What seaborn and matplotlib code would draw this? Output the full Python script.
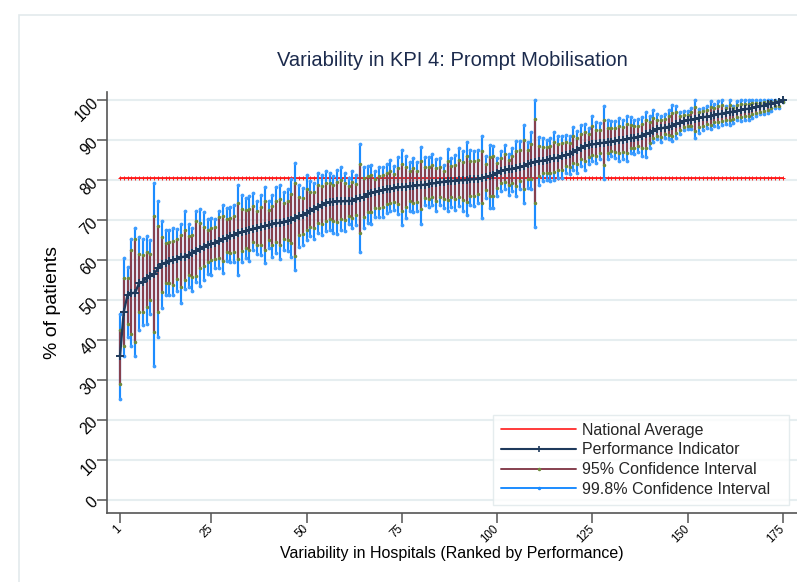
import numpy as np
import pandas as pd
import matplotlib
matplotlib.use("Agg")
import matplotlib.pyplot as plt
import seaborn as sns
from matplotlib.lines import Line2D
from matplotlib.patches import Rectangle

# ---------------- data ----------------
mean = [35.9, 47.1, 51.3, 51.7, 51.9, 54.2, 54.6, 55.5, 56.0, 56.5,
        58.0, 59.0, 59.4, 59.7, 60.0, 60.3, 60.7, 60.9, 61.2, 61.8,
        62.3, 62.8, 63.4, 63.7, 64.1, 64.4, 64.7, 65.2, 65.6, 66.0,
        66.3, 66.7, 67.0, 67.3, 67.6, 67.9, 68.1, 68.3, 68.5, 68.8,
        69.0, 69.2, 69.4, 69.6, 69.8, 70.1, 70.5, 71.0, 71.3, 71.8,
        72.3, 72.8, 73.3, 73.9, 74.3, 74.5, 74.6, 74.7, 74.7, 74.8,
        74.8, 74.9, 75.2, 75.5, 75.8, 76.5, 76.8, 77.0, 77.3, 77.5,
        77.7, 77.8, 78.0, 78.2, 78.3, 78.4, 78.5, 78.6, 78.7, 78.8,
        78.9, 79.1, 79.2, 79.3, 79.5, 79.6, 79.7, 79.8, 79.9, 80.0,
        80.0, 80.1, 80.2, 80.3, 80.4, 80.6, 80.8, 81.0, 81.3, 81.7,
        82.4, 82.6, 82.7, 82.9, 83.0, 83.3, 83.6, 84.0, 84.4, 84.7,
        84.8, 84.9, 85.1, 85.3, 85.5, 85.7, 86.0, 86.3, 86.6, 87.0,
        87.5, 88.1, 88.6, 88.8, 89.0, 89.1, 89.3, 89.4, 89.6, 89.7,
        89.8, 90.0, 90.1, 90.3, 90.5, 90.7, 90.9, 91.2, 91.5, 91.9,
        92.4, 92.8, 93.0, 93.2, 93.4, 93.7, 94.1, 94.4, 94.8, 95.0,
        95.2, 95.4, 95.6, 95.8, 95.9, 96.1, 96.3, 96.5, 96.7, 96.9,
        97.0, 97.2, 97.4, 97.6, 97.8, 97.9, 98.1, 98.3, 98.5, 98.7,
        99.0, 99.2, 99.4, 99.7, 100.0]

ci998_lo = [25.2, 36.1, 40.8, 38.4, 36.1, 42.4, 43.7, 44.1, 46.5, 33.6,
            40.8, 48.1, 51.3, 51.3, 51.4, 52.2, 49.2, 52.9, 53.4, 52.2,
            54.6, 53.6, 55.0, 56.5, 56.3, 58.0, 58.0, 56.7, 59.7, 59.5,
            59.5, 56.3, 59.5, 60.5, 59.7, 62.6, 61.5, 61.3, 59.2, 63.0,
            60.7, 61.7, 60.3, 62.6, 62.2, 60.9, 57.5, 63.4, 63.8, 65.1,
            66.0, 65.4, 66.8, 66.2, 67.2, 67.6, 66.8, 66.5, 67.6, 67.2,
            69.0, 68.0, 68.8, 62.0, 68.0, 69.3, 69.1, 70.7, 70.7, 70.7,
            71.8, 72.4, 72.6, 71.6, 68.8, 70.5, 72.4, 72.0, 72.2, 69.1,
            73.7, 73.2, 73.7, 72.2, 73.7, 73.0, 72.3, 73.4, 72.5, 73.5,
            72.3, 71.2, 73.7, 73.5, 74.4, 70.6, 75.6, 73.1, 73.1, 76.0,
            77.3, 77.7, 76.4, 77.3, 76.0, 77.7, 74.4, 78.1, 77.7, 68.3,
            78.9, 79.8, 80.0, 79.8, 80.0, 80.6, 80.6, 81.9, 81.5, 82.6,
            81.9, 83.6, 82.6, 84.0, 84.9, 84.4, 85.3, 80.4, 85.3, 86.1,
            85.7, 84.9, 85.3, 84.9, 86.8, 86.5, 87.1, 86.1, 85.9, 88.0,
            89.5, 90.3, 89.5, 90.7, 90.3, 89.8, 90.7, 91.5, 92.5, 92.8,
            92.8, 90.7, 91.9, 92.5, 93.1, 92.8, 93.6, 93.3, 93.9, 94.1,
            93.8, 94.4, 95.0, 94.8, 95.0, 95.2, 95.6, 96.0, 96.5, 96.5,
            96.9, 97.3, 98.0, 98.0, 99.5]

ci998_hi = [46.5, 60.5, 58.4, 65.3, 68.1, 65.7, 65.3, 66.0, 65.1, 79.4,
            74.8, 69.9, 67.5, 67.5, 68.1, 67.9, 69.1, 72.3, 69.0, 68.1,
            72.3, 72.9, 72.1, 70.2, 70.6, 70.2, 72.3, 73.9, 73.1, 73.3,
            73.7, 78.9, 76.2, 75.6, 76.0, 76.9, 74.9, 76.3, 78.3, 74.8,
            76.2, 78.3, 78.9, 77.0, 77.7, 80.2, 84.2, 78.7, 78.1, 81.3,
            79.8, 79.4, 81.8, 81.3, 82.2, 81.9, 81.1, 82.5, 83.2, 81.9,
            80.6, 82.2, 81.3, 89.1, 83.4, 83.6, 83.9, 82.4, 83.2, 83.4,
            84.1, 85.1, 83.6, 85.9, 87.5, 86.2, 84.7, 85.6, 84.5, 88.4,
            85.8, 85.9, 86.6, 85.3, 85.6, 83.9, 87.8, 85.7, 86.3, 88.0,
            87.4, 89.7, 87.6, 87.4, 87.6, 91.2, 86.1, 88.8, 88.7, 85.7,
            87.4, 88.8, 86.5, 88.0, 89.9, 89.9, 93.8, 89.5, 92.0, 100.0,
            90.8, 90.5, 90.2, 90.5, 92.2, 91.2, 91.2, 91.3, 91.0, 93.4,
            92.4, 93.8, 94.1, 93.0, 96.1, 94.6, 94.4, 98.6, 95.1, 94.9,
            94.9, 95.6, 95.1, 96.1, 95.9, 95.1, 95.4, 95.9, 97.2, 96.1,
            97.6, 96.5, 96.1, 96.7, 97.5, 98.8, 98.7, 97.0, 97.4, 97.3,
            98.1, 100.0, 97.9, 98.1, 98.7, 99.8, 99.0, 99.8, 100.0, 98.7,
            100.0, 98.7, 99.8, 100.0, 100.0, 100.0, 100.0, 100.0, 100.0, 100.0,
            100.0, 100.0, 100.0, 100.0, 100.0]

ci95_lo = [29.0, 38.6, 44.1, 41.4, 39.5, 46.9, 46.9, 48.3, 50.0, 42.0,
           47.1, 52.1, 54.2, 54.4, 53.9, 55.3, 53.4, 55.0, 56.3, 55.9,
           56.1, 58.0, 58.6, 59.5, 60.1, 60.3, 60.5, 59.7, 62.0, 61.9,
           62.0, 60.2, 62.3, 63.0, 62.6, 64.6, 63.9, 63.9, 62.6, 65.1,
           63.8, 64.5, 63.7, 65.2, 65.0, 64.3, 61.0, 66.2, 66.6, 67.6,
           68.3, 68.1, 69.2, 69.0, 69.8, 70.2, 69.7, 69.5, 70.2, 70.0,
           71.1, 70.6, 71.2, 66.8, 70.9, 72.0, 72.0, 73.0, 73.1, 73.2,
           74.0, 74.4, 74.6, 74.0, 72.3, 73.4, 74.7, 74.4, 74.6, 72.7,
           75.6, 75.4, 75.7, 74.8, 75.8, 75.4, 75.0, 75.8, 75.2, 75.9,
           75.1, 74.5, 76.1, 76.0, 76.6, 74.3, 77.5, 76.0, 76.1, 78.1,
           79.2, 79.5, 78.7, 79.4, 78.6, 79.8, 77.8, 80.3, 80.2, 74.4,
           81.1, 81.7, 81.9, 81.8, 82.0, 82.5, 82.6, 83.5, 83.4, 84.2,
           84.0, 85.3, 84.8, 85.8, 86.4, 86.1, 86.8, 83.7, 86.9, 87.4,
           87.2, 86.8, 87.1, 86.9, 88.2, 88.1, 88.5, 88.0, 88.0, 89.4,
           90.6, 91.2, 90.8, 91.6, 91.4, 91.2, 91.9, 92.6, 93.3, 93.6,
           93.7, 92.4, 93.3, 93.7, 94.1, 93.9, 94.6, 94.5, 94.9, 95.1,
           95.0, 95.4, 95.9, 95.8, 96.0, 96.2, 96.5, 96.8, 97.2, 97.3,
           97.7, 98.0, 98.5, 98.6, 99.7]

ci95_hi = [42.6, 55.5, 55.6, 62.6, 65.3, 61.5, 61.2, 62.0, 61.5, 71.0,
           68.5, 65.7, 64.3, 64.5, 64.9, 65.4, 66.4, 67.6, 66.0, 66.4,
           69.7, 69.2, 68.2, 67.6, 68.1, 68.2, 70.8, 71.0, 70.3, 70.6,
           71.0, 74.4, 72.8, 72.5, 72.9, 73.6, 72.4, 73.3, 74.7, 72.6,
           73.5, 74.9, 75.4, 74.3, 74.8, 76.5, 79.3, 75.9, 75.6, 77.8,
           77.0, 77.0, 78.7, 78.6, 79.3, 79.2, 78.7, 79.6, 80.1, 79.3,
           78.5, 79.5, 79.0, 84.0, 80.6, 81.0, 81.3, 80.4, 81.0, 81.2,
           81.7, 82.4, 81.5, 83.0, 84.1, 83.3, 82.4, 83.0, 82.4, 84.8,
           83.2, 83.4, 83.9, 83.1, 83.3, 82.3, 84.8, 83.5, 83.9, 85.0,
           84.7, 86.1, 84.9, 84.8, 85.0, 87.3, 84.1, 85.9, 86.0, 84.2,
           85.6, 86.5, 85.1, 86.1, 87.3, 87.5, 90.0, 87.5, 89.2, 95.4,
           88.6, 88.4, 88.3, 88.6, 89.7, 89.2, 89.3, 89.5, 89.4, 91.0,
           90.6, 91.7, 92.1, 91.5, 93.5, 92.6, 92.5, 95.2, 93.1, 93.0,
           93.0, 93.5, 93.3, 94.0, 93.9, 93.5, 93.7, 94.2, 95.1, 94.5,
           95.7, 95.1, 95.0, 95.4, 96.0, 96.9, 97.0, 96.0, 96.4, 96.4,
           97.0, 98.3, 97.0, 97.3, 97.7, 98.4, 98.0, 98.6, 98.8, 98.0,
           98.9, 98.2, 98.9, 99.1, 99.2, 99.2, 99.3, 99.4, 99.4, 99.5,
           99.6, 99.7, 99.8, 99.9, 100.0]

national_average = 80.5
x_tick_values = [1, 25, 50, 75, 100, 125, 150, 175]
y_tick_values = [0, 10, 20, 30, 40, 50, 60, 70, 80, 90, 100]

title = "Variability in KPI 4: Prompt Mobilisation"
x_label = "Variability in Hospitals (Ranked by Performance)"
y_label = "% of patients"
legend_labels = ["National Average", "Performance Indicator",
                 "95% Confidence Interval", "99.8% Confidence Interval"]

# ---------------- styling ----------------
sns.set_theme(style="white")
plt.rcParams['font.family'] = ['Liberation Sans', 'DejaVu Sans']

C_RED = "#ff1a1a"
C_NAVY = "#1f3a5c"
C_MAROON = "#86404f"
C_OLIVE = "#6f8a3c"
C_BLUE = "#1c8cff"
C_GRID = "#e6eef0"

df = pd.DataFrame({
    "rank": np.arange(1, len(mean) + 1),
    "mean": mean,
    "lo998": ci998_lo, "hi998": ci998_hi,
    "lo95": ci95_lo, "hi95": ci95_hi,
})
df["national"] = national_average

W, H = 797, 582
fig = plt.figure(figsize=(W / 100, H / 100), dpi=100)
fig.patch.set_facecolor("white")
fig.add_artist(Rectangle((19 / W, -0.1), 1.2, 1 - 15 / H + 0.1,
                         transform=fig.transFigure, fill=False,
                         edgecolor="#e3eaec", lw=1.2))

ax = fig.add_axes([107 / W, 1 - 513 / H, 690 / W, 421 / H])
ax.set_facecolor("white")
ax.set_xlim(-2.4, 178.7)
ax.set_ylim(-3.3, 102.1)

ax.set_yticks(y_tick_values)
ax.yaxis.grid(True, color=C_GRID, lw=1.5, zorder=0)
ax.xaxis.grid(False)
ax.set_axisbelow(True)

# national average
sns.lineplot(data=df, x="rank", y="national", ax=ax, color=C_RED, lw=1.3,
             marker="+", markersize=3.2, markeredgewidth=0.7,
             markeredgecolor=C_RED, zorder=1.5, legend=False)

# 99.8% CI
ax.vlines(df["rank"], df["lo998"], df["hi998"], color=C_BLUE, lw=1.55, zorder=2)
ax.plot(df["rank"], df["lo998"], ls="none", marker="o", ms=1.7, color="#3c9cff", zorder=2.1)
ax.plot(df["rank"], df["hi998"], ls="none", marker="o", ms=1.7, color="#3c9cff", zorder=2.1)

# 95% CI
ax.vlines(df["rank"], df["lo95"], df["hi95"], color=C_MAROON, lw=1.55, zorder=3)
ax.plot(df["rank"], df["lo95"], ls="none", marker="o", ms=1.5, color=C_OLIVE, zorder=3.1)
ax.plot(df["rank"], df["hi95"], ls="none", marker="o", ms=1.5, color=C_OLIVE, zorder=3.1)

# performance indicator
sns.lineplot(data=df, x="rank", y="mean", ax=ax, color=C_NAVY, lw=1.7,
             marker="+", markersize=6, markeredgewidth=1.4,
             markeredgecolor=C_NAVY, zorder=4, legend=False)

# axes styling
for s in ["top", "right"]:
    ax.spines[s].set_visible(False)
for s in ["left", "bottom"]:
    ax.spines[s].set_color("#555555")
    ax.spines[s].set_linewidth(1.2)

ax.set_xticks(x_tick_values)
ax.set_xticklabels([str(v) for v in x_tick_values], fontsize=8.3)
ax.set_yticklabels([str(v) for v in y_tick_values], fontsize=11.3)
ax.tick_params(axis="both", which="both", direction="out", length=7,
               width=1.1, color="#555555", pad=1, labelcolor="black")
ax.tick_params(axis="x", bottom=True, pad=3)
ax.tick_params(axis="y", left=True)
for lab in ax.get_yticklabels():
    lab.set_rotation(45)
    lab.set_rotation_mode("anchor")
    lab.set_ha("right")
    lab.set_va("center")
for lab in ax.get_xticklabels():
    lab.set_rotation(45)
    lab.set_rotation_mode("anchor")
    lab.set_ha("right")
    lab.set_va("center")

ax.set_xlabel(x_label, fontsize=11.5, color="black")
ax.set_ylabel(y_label, fontsize=14, color="black")
ax.xaxis.set_label_coords(0.5, -0.078)
ax.yaxis.set_label_coords(-0.066, 0.5)

fig.text(452 / W, 1 - 60 / H, title, ha="center", va="center",
         fontsize=14.5, color="#1c2b4d")

handles = [
    Line2D([], [], color=C_RED, lw=1.2),
    Line2D([], [], color=C_NAVY, lw=1.5, marker="+", ms=5, mew=1.2),
    Line2D([], [], color=C_MAROON, lw=1.4, marker="o", ms=1.5,
           markerfacecolor=C_OLIVE, markeredgecolor=C_OLIVE),
    Line2D([], [], color=C_BLUE, lw=1.4, marker="o", ms=1.5),
]
leg_x0 = (493 - 107) / 690
leg_x1 = (789 - 107) / 690
leg_y0 = (513 - 505) / 421
leg_y1 = (513 - 409) / 421
leg = ax.legend(handles, legend_labels, loc="lower left",
                bbox_to_anchor=(leg_x0, leg_y0, leg_x1 - leg_x0, leg_y1 - leg_y0),
                mode="expand", borderaxespad=0,
                fontsize=11.5, frameon=True, fancybox=False,
                handlelength=4.7, handletextpad=0.4, labelspacing=0.3,
                borderpad=0.5, numpoints=1)
leg.get_frame().set_edgecolor("#dfe8ea")
leg.get_frame().set_linewidth(1.0)
leg.get_frame().set_facecolor("white")
leg.set_zorder(10)

fig.savefig("out.png", dpi=100, facecolor="white")
